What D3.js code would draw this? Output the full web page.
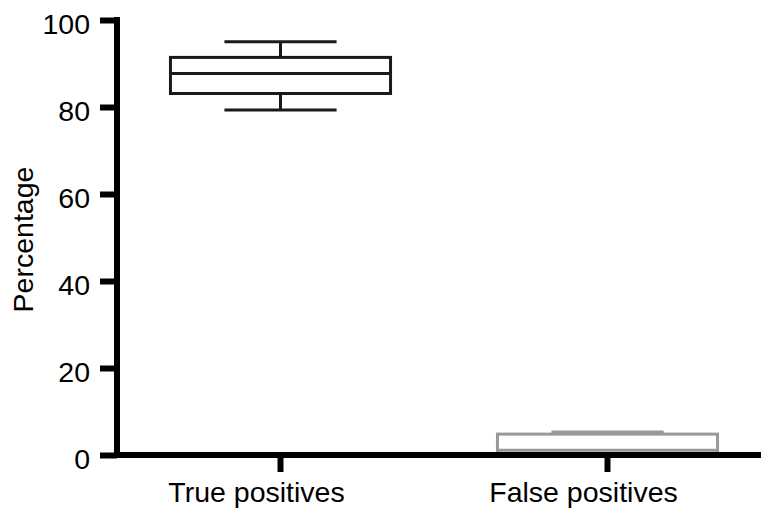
<!DOCTYPE html>
<html>
<head>
<meta charset="utf-8">
<script src="https://cdn.jsdelivr.net/npm/d3@7"></script>
<style>
  html, body { margin: 0; padding: 0; background: #fff; }
  svg { display: block; font-family: "Liberation Sans", Arial, sans-serif; }
</style>
</head>
<body>
<svg id="chart" width="761" height="514"></svg>
<script>
// Box-plot summaries per group (percent)
const categories = ["True positives", "False positives"];
const whiskerLow  = [79.3, 0.0];
const boxLow      = [83.1, 0.2];
const medians     = [87.7, 1.1];
const boxHigh     = [91.4, 4.8];
const whiskerHigh = [95.0, 5.3];
const boxColors   = ["#1a1a1a", "#999999"];
const yTicks      = [0, 20, 40, 60, 80, 100];

const svg = d3.select("#chart");
const plotLeft = 117, plotRight = 771, plotTop = 20, plotBottom = 455;
const fontSize = 28.5;

const x = d3.scaleBand().domain(categories).range([plotLeft, plotRight]);
const y = d3.scaleLinear().domain([0, 100]).range([plotBottom, plotTop]);

const data = categories.map((c, i) => ({
  c, lo: whiskerLow[i], q1: boxLow[i], med: medians[i], q3: boxHigh[i], hi: whiskerHigh[i], color: boxColors[i]
}));

const boxW = x.bandwidth() * 0.673;
const capW = x.bandwidth() * 0.343;

const g = svg.append("g");
data.forEach(d => {
  const cx = x(d.c) + x.bandwidth() / 2;
  const grp = g.append("g").attr("stroke", d.color).attr("stroke-width", 3).attr("fill", "none");
  // whisker stems
  grp.append("line").attr("x1", cx).attr("x2", cx).attr("y1", y(d.hi)).attr("y2", y(d.q3));
  grp.append("line").attr("x1", cx).attr("x2", cx).attr("y1", y(d.q1)).attr("y2", y(d.lo));
  // whisker caps
  grp.append("line").attr("x1", cx - capW / 2).attr("x2", cx + capW / 2).attr("y1", y(d.hi)).attr("y2", y(d.hi));
  grp.append("line").attr("x1", cx - capW / 2).attr("x2", cx + capW / 2).attr("y1", y(d.lo)).attr("y2", y(d.lo));
  // box
  grp.append("rect").attr("x", cx - boxW / 2).attr("width", boxW)
    .attr("y", y(d.q3)).attr("height", y(d.q1) - y(d.q3)).attr("fill", "#fff");
  // median
  grp.append("line").attr("x1", cx - boxW / 2).attr("x2", cx + boxW / 2).attr("y1", y(d.med)).attr("y2", y(d.med));
});

// y axis
const yAxis = svg.append("g").attr("transform", `translate(${plotLeft},0)`)
  .call(d3.axisLeft(y).tickValues(yTicks).tickSize(17).tickPadding(10).tickFormat(d3.format("d")));
yAxis.select(".domain").attr("stroke", "#000").attr("stroke-width", 6).attr("d", `M0,${plotTop - 3}V${plotBottom + 3}`);
yAxis.selectAll(".tick line").attr("stroke", "#000").attr("stroke-width", 6);
yAxis.selectAll(".tick text").attr("font-size", fontSize).attr("fill", "#000").attr("dy", "0.46em")
  .attr("font-family", "Liberation Sans, Arial, sans-serif");

// x axis
const xAxis = svg.append("g").attr("transform", `translate(0,${plotBottom})`)
  .call(d3.axisBottom(x).tickSize(17).tickPadding(10));
xAxis.select(".domain").attr("stroke", "#000").attr("stroke-width", 6).attr("d", `M${plotLeft - 3},0H761`);
xAxis.selectAll(".tick line").attr("stroke", "#000").attr("stroke-width", 6);
xAxis.selectAll(".tick text").attr("font-size", fontSize).attr("fill", "#000").attr("dx", -24)
  .attr("font-family", "Liberation Sans, Arial, sans-serif");

// y axis title
svg.append("text")
  .attr("transform", `translate(33,${(plotTop + plotBottom) / 2 + 2}) rotate(-90)`)
  .attr("text-anchor", "middle")
  .attr("font-size", fontSize)
  .attr("fill", "#000")
  .text("Percentage");
</script>
</body>
</html>
